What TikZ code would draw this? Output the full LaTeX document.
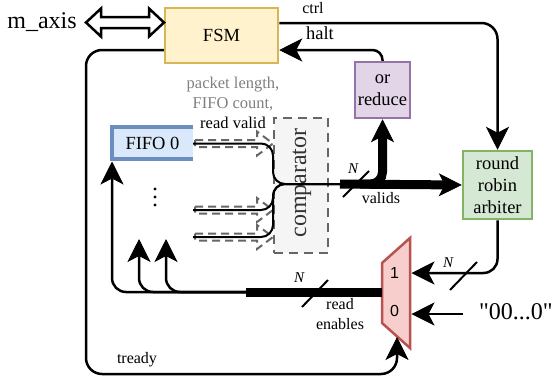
\documentclass[tikz,border=0pt]{standalone}
\usepackage{fontspec}
\setmainfont{Liberation Serif}[Ligatures=TeXOff]
\newfontfamily\serf{Liberation Serif}[Ligatures=TeXOff]
\newfontfamily\sansf{Liberation Sans}
\usetikzlibrary{arrows.meta}
\definecolor{fsmfill}{HTML}{FFF2CC}\definecolor{fsmdraw}{HTML}{D6B656}
\definecolor{orfill}{HTML}{E1D5E7}\definecolor{ordraw}{HTML}{9673A6}
\definecolor{arbfill}{HTML}{D5E8D4}\definecolor{arbdraw}{HTML}{82B366}
\definecolor{fifofill}{HTML}{DAE8FC}\definecolor{fifodraw}{HTML}{6C8EBF}
\definecolor{cmpfill}{HTML}{F5F5F5}\definecolor{cmpdraw}{HTML}{666666}
\definecolor{muxfill}{HTML}{F8CECC}\definecolor{muxdraw}{HTML}{B85450}
\definecolor{lblgray}{HTML}{808080}
\definecolor{cmptext}{HTML}{333333}
\newcommand\boxfont{\serf\fontsize{18.5}{22}\selectfont}
\newcommand\labfont{\serf\fontsize{16}{20}\selectfont}
\newcommand\bigfont{\serf\fontsize{24}{28}\selectfont}
\tikzset{
  >={Stealth[length=23pt,width=23pt,inset=6pt,line width=0.8pt]},
  blockbox/.style={draw, line width=2.5pt, align=center, inner sep=0pt, font=\boxfont},
  conn/.style={line width=2.5pt},
  busline/.style={line width=9pt},
  lab/.style={font=\labfont, inner sep=0pt, align=center},
  nlab/.style={font=\serf\fontsize{15}{18}\selectfont\itshape, inner sep=0pt},
  slashline/.style={line width=2pt},
  ghost/.style={draw=cmpdraw, line width=2pt, dash pattern=on 8pt off 5pt},
}
\begin{document}
\begin{tikzpicture}[x=1pt,y=-1pt]
\path[use as bounding box, fill=white] (0,0) rectangle (554,378);

% boxes
\node[blockbox, fill=fsmfill, draw=fsmdraw, minimum width=113pt, minimum height=55pt] (fsm) at (221.5,35.5) {FSM};
\node[blockbox, fill=orfill, draw=ordraw, minimum width=55pt, minimum height=56pt] (orr) at (382.5,90) {or\\reduce};
\node[blockbox, fill=arbfill, draw=arbdraw, minimum width=69pt, minimum height=68pt] (arb) at (497.5,185) {round\\robin\\arbiter};
\node[fill=fifofill, minimum width=81pt, minimum height=32pt, inner sep=0pt, font=\boxfont] (fifo) at (152.5,143) {FIFO 0};
\draw[fifodraw, line width=4.5pt] (fifo.north east) -- (fifo.north west) -- (fifo.south west) -- (fifo.south east);
\node[draw=cmpdraw, fill=cmpfill, line width=2.5pt, dash pattern=on 9pt off 6pt, minimum width=54pt, minimum height=135pt, inner sep=0pt] (cmp) at (301,185.5) {};
\node[rotate=90, font=\bigfont, text=cmptext, inner sep=0pt] (cmptxt) at (302,183) {comparator};

% mux
\draw[fill=muxfill, draw=muxdraw, line width=2.5pt, line join=miter] (382,263) -- (410,238) -- (410,348) -- (382,323) -- cycle;
\node[font=\sansf\fontsize{16}{18}\selectfont, inner sep=0pt] (m1) at (394.5,273) {1};
\node[font=\sansf\fontsize{16}{18}\selectfont, inner sep=0pt] (m0) at (394.5,311) {0};

% coordinates
\coordinate (cy) at (0,23);
\coordinate (hy) at (0,50);
\coordinate (tb) at (86,374);
\coordinate (muxB) at (397,337);
\coordinate (mux1) at (411.5,273);
\coordinate (mux0) at (411.5,314);
\coordinate (muxL) at (382,292);
\coordinate (busL) at (246,292);
\coordinate (f0) at (112,161.5);
\coordinate (f1) at (139,239);
\coordinate (f2) at (166,239);
\coordinate (l0) at (193,143.5);
\coordinate (l1) at (193,210);
\coordinate (l2) at (193,237);
\coordinate (cm) at (273,184);
\coordinate (vb) at (340,184);
\coordinate (ob) at (360,184);
\coordinate (zin) at (463,314);

% m_axis
\node[font=\bigfont, inner sep=0pt, anchor=base] (maxis) at (42,28) {m\_axis};
\draw[line width=2.5pt, fill=white, line join=miter] (86,22.5) -- (101,8.5) -- (101,17) -- (149,17) -- (149,8.5) -- (164,22.5) -- (149,36.5) -- (149,28) -- (101,28) -- (101,36.5) -- cycle;

% ctrl, halt, tready
\draw[conn,->,rounded corners=16] (fsm.east |- cy) -| (arb.north);
\node[lab] (ctrl) at (313,8) {ctrl};
\draw[conn,->,rounded corners=10] (orr.north) |- (fsm.east |- hy);
\node[lab, font=\boxfont] (halt) at (320,33) {halt};
\draw[conn,->,rounded corners=16] (fsm.west |- hy) -| (tb) -| (muxB);
\node[lab] (tready) at (137,360) {tready};

% gray labels
\node[lab, font=\serf\fontsize{16.5}{20}\selectfont] (plen) at (233,103) {\textcolor{lblgray}{packet length,}\\\textcolor{lblgray}{FIFO count,}\\read valid};

% ghost arrows
\foreach \yy in {143.5,210,237}{
  \draw[ghost, line join=miter] (195,\yy-3.5) -- (257,\yy-3.5) -- (257,\yy-12) -- (273,\yy) -- (257,\yy+12) -- (257,\yy+3.5) -- (195,\yy+3.5) -- cycle;
}
% thin lines into comparator
\draw[line width=2pt, rounded corners=12] (l0) -| (cm) -- (vb);
\draw[line width=2pt, rounded corners=12] (l1) -| (cm) -- (vb);
\draw[line width=2pt, rounded corners=12] (l2) -| (cm) -- (vb);

% dots
\fill (155,189) circle (1.6) (155,197) circle (1.6) (155,205) circle (1.6);

% valids bus
\draw[busline,->] (vb) -- (arb.west);
\draw[busline,->,rounded corners=12] (ob) -| (orr.south);
\draw[slashline] (343,197) -- (369,171);
\node[nlab] (n1) at (353,169) {N};
\node[lab] (valids) at (381,198) {valids};

% mux inputs
\draw[conn,->,rounded corners=14] (arb.south) |- (mux1);
\draw[slashline] (450,290) -- (477,262);
\node[nlab] (n3) at (448,263) {N};
\draw[conn,->] (zin) -- (mux0);
\node[font=\bigfont, inner sep=0pt, anchor=west] (zeros) at (479,312) {"00...0"};

% read enables
\draw[busline] (muxL) -- (busL);
\draw[slashline] (302,307) -- (328,280);
\node[nlab] (n2) at (299,278) {N};
\node[lab] (ren) at (340,314) {read\\enables};
\draw[conn,->,rounded corners=14] (busL) -| (f0);
\draw[conn,->,rounded corners=14] (busL) -| (f1);
\draw[conn,->,rounded corners=14] (busL) -| (f2);
\end{tikzpicture}
\end{document}
